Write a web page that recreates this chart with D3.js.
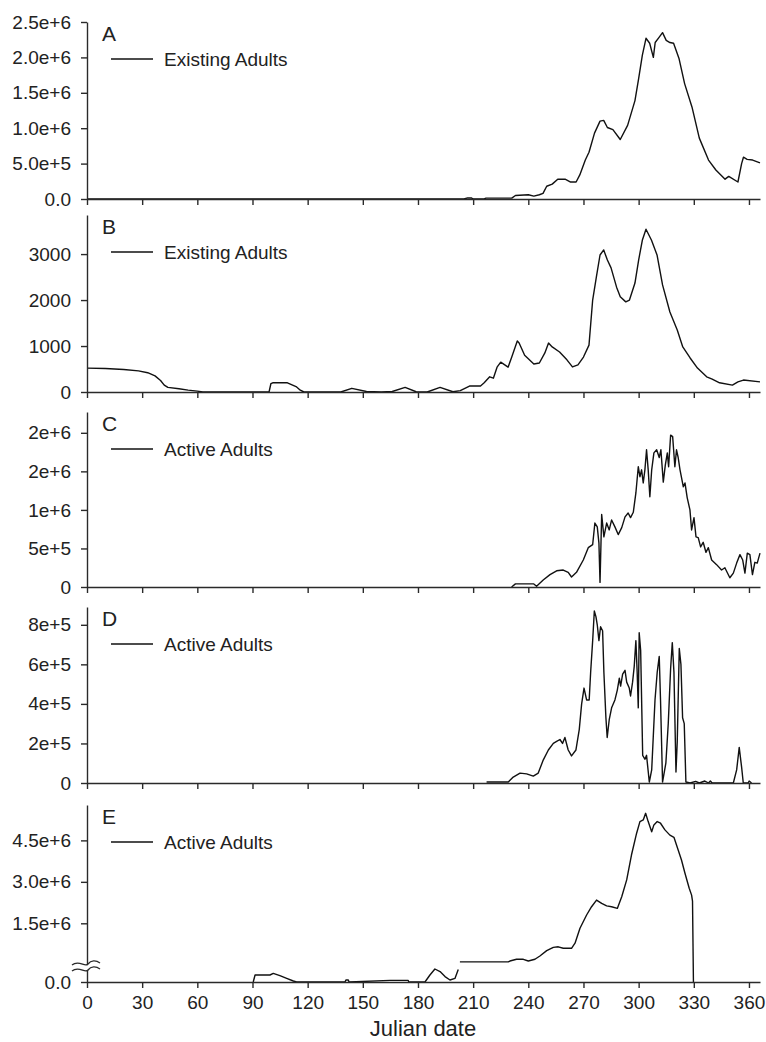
<!DOCTYPE html>
<html>
<head>
<meta charset="utf-8">
<script src="https://cdn.jsdelivr.net/npm/d3@7"></script>
<style>
  body { margin: 0; background: #fff; }
  svg { display: block; font-family: "Liberation Sans", Arial, sans-serif; }
</style>
</head>
<body>
<div id="chart"></div>
<script>
// ---- data: [Julian date, count] ----
const existingA = [
  [0, 0], [205, 0], [207, 1.5e4], [209, 1.5e4], [210, 0], [216, 0], [217, 1.2e4], [231, 1.2e4],
  [233, 5e4], [240, 6e4], [243, 4e4], [246, 6e4], [248, 8e4], [250, 1.8e5], [253, 2.1e5],
  [256, 2.8e5], [260, 2.8e5], [263, 2.4e5], [266, 2.4e5], [268, 3.4e5], [271, 5.5e5],
  [273, 6.6e5], [276, 9.3e5], [279, 1.1e6], [281, 1.11e6], [283, 1.01e6], [286, 0.98e6],
  [290, 0.84e6], [294, 1.04e6], [298, 1.39e6], [300, 1.7e6], [302, 2.03e6], [304, 2.27e6],
  [306, 2.2e6], [308, 2.0e6], [309, 2.21e6], [311, 2.28e6], [313, 2.35e6], [315, 2.24e6],
  [317, 2.21e6], [319, 2.2e6], [322, 1.98e6], [325, 1.63e6], [329, 1.3e6], [333, 0.86e6],
  [338, 0.55e6], [342, 0.41e6], [347, 0.28e6], [349, 0.32e6], [354, 0.24e6], [356, 0.5e6],
  [357, 0.59e6], [359, 0.56e6], [362, 0.55e6], [366, 0.51e6]
];

const existingB = [
  [0, 520], [10, 510], [20, 490], [28, 460], [33, 420], [37, 350], [40, 250], [42, 150],
  [44, 100], [50, 70], [55, 40], [60, 20], [63, 0], [99, 0], [100, 180], [101, 200],
  [109, 200], [114, 110], [116, 40], [118, 0], [138, 0], [144, 80], [152, 10], [160, 0],
  [166, 10], [173, 100], [179, 5], [185, 0], [192, 100], [199, 5], [203, 30], [208, 130],
  [214, 130], [216, 200], [219, 330], [221, 300], [223, 540], [225, 650], [229, 540],
  [231, 760], [234, 1110], [235, 1065], [238, 800], [243, 610], [246, 630], [249, 850],
  [251, 1065], [253, 980], [257, 870], [261, 700], [264, 545], [267, 590], [270, 760],
  [273, 1020], [275, 2000], [277, 2500], [279, 2980], [281, 3090], [283, 2870], [285, 2700],
  [288, 2280], [290, 2070], [293, 1960], [295, 2000], [298, 2370], [300, 2870], [302, 3300],
  [304, 3540], [307, 3300], [310, 2980], [313, 2330], [317, 1740], [321, 1350], [324, 980],
  [328, 740], [332, 520], [337, 330], [340, 280], [344, 200], [351, 150], [354, 220],
  [357, 260], [366, 220]
];

const activeC = [
  [230.9, 0], [233, 4e4], [243, 4e4], [244.5, 1e4], [248.1, 9e4], [251.8, 1.6e5], [255.4, 2.1e5],
  [259.0, 2.2e5], [261.7, 1.9e5], [263.5, 1.3e5], [266.2, 1.9e5], [269.9, 3.5e5], [272.6, 5.1e5],
  [275.0, 5.5e5], [276.2, 8.3e5], [277.5, 7.8e5], [278.4, 5.7e5], [279.0, 6e4], [279.9, 9.4e5],
  [281.1, 6.5e5], [282.6, 8.3e5], [284.0, 7.4e5], [285.3, 8.7e5], [287.1, 7.8e5], [288.9, 6.8e5],
  [290.8, 7.7e5], [292.6, 9.1e5], [294.3, 9.6e5], [295.6, 9e5], [297.1, 9.7e5], [298.5, 1.22e6],
  [299.8, 1.56e6], [300.7, 1.43e6], [301.6, 1.52e6], [302.5, 1.35e6], [303.4, 1.52e6],
  [304.3, 1.78e6], [305.2, 1.52e6], [306.1, 1.17e6], [307.1, 1.52e6], [308.3, 1.74e6],
  [309.8, 1.78e6], [311.2, 1.68e6], [312.1, 1.78e6], [313.4, 1.36e6], [314.5, 1.58e6],
  [315.6, 1.74e6], [316.3, 1.56e6], [317.4, 1.97e6], [318.5, 1.95e6], [319.7, 1.56e6],
  [320.6, 1.78e6], [321.5, 1.68e6], [322.5, 1.52e6], [324.3, 1.3e6], [325.2, 1.35e6],
  [326.4, 1.16e6], [327.9, 1.0e6], [328.8, 7.4e5], [330.1, 9e5], [331.2, 6.5e5], [332.4, 6.4e5],
  [333.7, 5.2e5], [335.1, 5.8e5], [336.6, 4.5e5], [337.9, 5.1e5], [339.7, 3.5e5], [342.4, 2.9e5],
  [345.1, 2.2e5], [346.9, 2.5e5], [349.6, 1.2e5], [351.5, 1.8e5], [353.3, 3.1e5], [355.1, 4.2e5],
  [356.6, 3.5e5], [357.8, 1.8e5], [359.1, 4.4e5], [360.5, 4.2e5], [361.9, 1.6e5], [363.2, 3.2e5],
  [364.5, 3.1e5], [366, 4.4e5]
];

const activeD = [
  [217.3, 5e3], [229.1, 5e3], [231.8, 3e4], [235.5, 5e4], [239.1, 4.6e4], [242.7, 3.5e4],
  [245.4, 5e4], [248.1, 1.16e5], [250.9, 1.67e5], [253.6, 2.0e5], [255.4, 2.1e5], [257.2, 2.2e5],
  [258.6, 2.0e5], [259.9, 2.3e5], [261.7, 1.67e5], [263.5, 1.37e5], [265.9, 1.67e5],
  [267.7, 2.7e5], [269.0, 4.0e5], [270.3, 4.8e5], [271.7, 4.2e5], [273.1, 4.2e5], [273.9, 5.6e5],
  [275.0, 7.2e5], [275.9, 8.7e5], [276.8, 8.4e5], [277.5, 8.0e5], [278.4, 7.2e5], [279.3, 7.9e5],
  [280.4, 7.7e5], [281.1, 5.6e5], [282.2, 3.3e5], [282.9, 2.3e5], [284.0, 3.2e5], [285.3, 3.8e5],
  [287.1, 4.2e5], [288.4, 4.7e5], [289.5, 5.3e5], [290.2, 4.9e5], [291.3, 5.5e5], [292.6, 5.7e5],
  [293.5, 5.1e5], [294.9, 4.8e5], [295.6, 4.4e5], [296.7, 5.1e5], [297.6, 5.9e5], [298.5, 7.2e5],
  [299.2, 5.6e5], [299.8, 3.8e5], [300.3, 7.6e5], [301.1, 6.7e5], [302.2, 1.4e5], [303.4, 1.2e5],
  [304.3, 1.4e5], [305.8, 5e3], [307.1, 6.6e4], [308.9, 4.2e5], [310.1, 5.6e5], [311.2, 6.4e5],
  [311.9, 4.2e5], [313.0, 5e3], [314.8, 1.0e5], [316.1, 3.0e5], [317.4, 5.8e5], [318.3, 7.1e5],
  [319.2, 5.6e5], [320.3, 5.6e4], [321.0, 2.1e5], [322.1, 6.8e5], [323.0, 6.0e5], [323.9, 3.3e5],
  [324.8, 3.0e5], [325.7, 5e3], [328, 0], [331, 8e3], [333, 0], [336, 1e4], [338, 0],
  [339, 1e4], [340, 0], [351.5, 0], [353.3, 6.6e4], [354.7, 1.8e5], [356.0, 8e4], [356.9, 0],
  [359.5, 0], [360.1, 1e4], [361.4, 0]
];

// null marks the gap in the plotted line just after day 202
const activeE = [
  [90.4, 0], [91.4, 3.5e4], [99.5, 3.5e4], [101.3, 4.3e4], [104.9, 3.2e4], [108.6, 1.8e4],
  [112.2, 5e3], [114, 0], [140.3, 0], [140.8, 1e4], [142.1, 1e4], [142.5, 0], [164.8, 8e3],
  [174.7, 8e3], [175, 0], [183.8, 0], [186.5, 3.5e4], [189.2, 6.5e4], [192.0, 5.2e4],
  [194.7, 2.7e4], [197.4, 1e4], [200.1, 1.8e4], [201.9, 6.3e4], [202.4, null],
  [202.8, 1.05e5], [229.1, 1.05e5], [230.0, 1.36e5], [233.6, 1.98e5], [237.3, 1.98e5],
  [240.0, 1.36e5], [243.6, 1.98e5], [246.3, 3.17e5], [250.0, 5.1e5], [253.6, 6.3e5],
  [256.3, 6.5e5], [259.0, 5.96e5], [263.5, 5.96e5], [265.4, 7.8e5], [268.1, 1.32e6],
  [271.7, 1.8e6], [274.4, 2.1e6], [277.1, 2.34e6], [279.9, 2.22e6], [282.6, 2.13e6],
  [285.3, 2.1e6], [288.4, 2.04e6], [290.8, 2.46e6], [293.5, 3.07e6], [296.1, 3.97e6],
  [298.9, 4.76e6], [300.7, 5.18e6], [302.5, 5.24e6], [303.8, 5.48e6], [305.2, 5.18e6],
  [307.1, 4.81e6], [308.3, 5.06e6], [310.1, 5.18e6], [311.9, 5.12e6], [314.3, 4.88e6],
  [317.0, 4.69e6], [319.2, 4.61e6], [321.5, 4.15e6], [323.3, 3.79e6], [325.2, 3.31e6],
  [327.5, 2.77e6], [328.8, 2.52e6], [329.3, 2.3e6], [329.8, 0]
];

// tick values and their printed labels
const xTicks = [0, 30, 60, 90, 120, 150, 180, 210, 240, 270, 300, 330, 360];
const ticksA = [0, 5e5, 1e6, 1.5e6, 2e6, 2.5e6];
const labelsA = ['0.0', '5.0e+5', '1.0e+6', '1.5e+6', '2.0e+6', '2.5e+6'];
const ticksB = [0, 1000, 2000, 3000];
const labelsB = ['0', '1000', '2000', '3000'];
const ticksC = [0, 5e5, 1e6, 1.5e6, 2e6];
const labelsC = ['0', '5e+5', '1e+6', '2e+6', '2e+6'];
const ticksD = [0, 2e5, 4e5, 6e5, 8e5];
const labelsD = ['0', '2e+5', '4e+5', '6e+5', '8e+5'];
const ticksE = [0, 1.5e6, 3e6, 4.5e6];
const labelsE = ['0.0', '1.5e+6', '3.0e+6', '4.5e+6'];

// ---- layout ----
const width = 766, height = 1042;
const xLeft = 87, xRight = 760;
const textColor = '#222', axisColor = '#2a2a2a';

const panels = [
  { letter: 'A', legend: 'Existing Adults', data: existingA, top: 22, bottom: 199, max: 2.5e6, ticks: ticksA, labels: labelsA },
  { letter: 'B', legend: 'Existing Adults', data: existingB, top: 215, bottom: 392, max: 3850, ticks: ticksB, labels: labelsB },
  { letter: 'C', legend: 'Active Adults', data: activeC, top: 412, bottom: 587, max: 2.27e6, ticks: ticksC, labels: labelsC },
  { letter: 'D', legend: 'Active Adults', data: activeD, top: 607, bottom: 783, max: 8.9e5, ticks: ticksD, labels: labelsD },
  { letter: 'E', legend: 'Active Adults', data: activeE, top: 805, bottom: 982, max: 5.78e6, ticks: ticksE, labels: labelsE, breakAt: 1e5 }
];

const svg = d3.select('#chart')
  .append('svg')
  .attr('width', width)
  .attr('height', height);

const x = d3.scaleLinear().domain([0, 366]).range([xLeft, xRight]);

function styleAxis(g) {
  g.attr('font-family', null).attr('font-size', null);
  g.selectAll('path, line').attr('stroke', axisColor).attr('stroke-width', 1.4);
  g.selectAll('text').attr('fill', textColor).style('font-size', '19px');
}

panels.forEach((p, i) => {
  const isLast = i === panels.length - 1;

  // y scale (panel E has a broken axis: small values get their own strip)
  const y = p.breakAt
    ? d3.scaleLinear().domain([0, p.breakAt, p.max]).range([p.bottom, p.bottom - 20, p.top])
    : d3.scaleLinear().domain([0, p.max]).range([p.bottom, p.top]);

  const g = svg.append('g').attr('class', 'panel-' + p.letter);

  // data line
  const line = d3.line()
    .defined(d => d[1] != null)
    .x(d => x(d[0]))
    .y(d => y(d[1]));

  g.append('path')
    .datum(p.data)
    .attr('fill', 'none')
    .attr('stroke', '#111')
    .attr('stroke-width', 1.4)
    .attr('stroke-linejoin', 'round')
    .attr('d', line);

  // x axis
  g.append('g')
    .attr('transform', `translate(0,${p.bottom})`)
    .call(d3.axisBottom(x)
      .tickValues(xTicks)
      .tickSize(6)
      .tickSizeOuter(0)
      .tickPadding(8)
      .tickFormat(d => isLast ? d : ''))
    .call(styleAxis);

  // y axis
  g.append('g')
    .attr('transform', `translate(${xLeft},0)`)
    .call(d3.axisLeft(y)
      .tickValues(p.ticks)
      .tickSize(6)
      .tickSizeOuter(0)
      .tickPadding(10)
      .tickFormat((d, k) => p.labels[k]))
    .call(styleAxis);

  // axis break marker
  if (p.breakAt) {
    const yb = p.bottom - 16;
    g.append('rect')
      .attr('x', xLeft - 3).attr('y', yb - 2)
      .attr('width', 6).attr('height', 6)
      .attr('fill', '#fff');
    [yb - 2, yb + 4].forEach(yy => {
      g.append('path')
        .attr('d', `M${xLeft - 15},${yy + 1} C${xLeft - 8},${yy - 5} ${xLeft - 2},${yy + 4} ${xLeft + 1},${yy}` +
                   ` S${xLeft + 9},${yy - 4} ${xLeft + 13},${yy - 1}`)
        .attr('fill', 'none')
        .attr('stroke', axisColor)
        .attr('stroke-width', 1.3);
    });
  }

  // panel letter
  g.append('text')
    .attr('x', 102)
    .attr('y', p.top + 19)
    .attr('fill', textColor)
    .style('font-size', '21px')
    .text(p.letter);

  // legend
  const ly = p.top + 37;
  g.append('line')
    .attr('x1', 111).attr('x2', 153)
    .attr('y1', ly).attr('y2', ly)
    .attr('stroke', '#111')
    .attr('stroke-width', 1.4);
  g.append('text')
    .attr('x', 164)
    .attr('y', ly + 7)
    .attr('fill', textColor)
    .style('font-size', '19px')
    .text(p.legend);
});

// x axis title
svg.append('text')
  .attr('x', 423)
  .attr('y', 1036)
  .attr('text-anchor', 'middle')
  .attr('fill', textColor)
  .style('font-size', '22px')
  .text('Julian date');
</script>
</body>
</html>
